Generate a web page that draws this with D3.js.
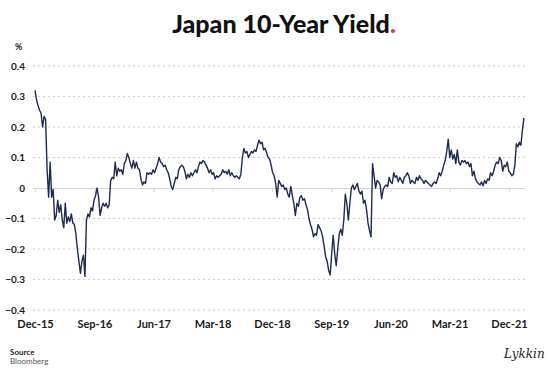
<!DOCTYPE html>
<html>
<head>
<meta charset="utf-8">
<script src="https://cdn.jsdelivr.net/npm/d3@7"></script>
<style>
  body { margin: 0; background: #fff; }
  .axis-label { font-family: Lato, "Noto Sans", sans-serif; font-weight: 700; fill: #1a1a1a; }
</style>
</head>
<body>
<div id="chart"></div>
<script>
// Weekly 10y JGB yield (%)
const weekStart = '2015-12-01';
const yields = [
  0.32, 0.29, 0.27, 0.255, 0.245, 0.20, 0.235, 0.225, 0.06, -0.03,
  0.085, -0.03, -0.005, -0.105, -0.09, -0.04, -0.08, -0.055, -0.105, -0.13,
  -0.05, -0.115, -0.095, -0.11, -0.085, -0.115, -0.12, -0.15, -0.2, -0.24,
  -0.28, -0.24, -0.22, -0.29, -0.105, -0.085, -0.095, -0.065, -0.075, -0.04,
  -0.025, 0.0, -0.03, -0.09, -0.065, -0.05, -0.06, -0.05, -0.065, -0.055,
  0.025, 0.035, 0.03, 0.085, 0.04, 0.065, 0.055, 0.06, 0.045, 0.08,
  0.09, 0.113, 0.1, 0.08, 0.065, 0.09, 0.065, 0.085, 0.065, 0.06,
  0.03, 0.01, 0.02, 0.015, 0.05, 0.045, 0.05, 0.045, 0.06, 0.05,
  0.065, 0.08, 0.1, 0.085, 0.08, 0.07, 0.075, 0.06, 0.05, 0.03,
  0.005, -0.005, 0.015, 0.035, 0.03, 0.06, 0.07, 0.075, 0.07, 0.055,
  0.03, 0.045, 0.035, 0.05, 0.04, 0.05, 0.06, 0.05, 0.07, 0.085,
  0.08, 0.09, 0.085, 0.075, 0.065, 0.05, 0.06, 0.045, 0.05, 0.03,
  0.04, 0.035, 0.04, 0.045, 0.06, 0.05, 0.055, 0.045, 0.06, 0.04,
  0.05, 0.04, 0.035, 0.04, 0.035, 0.03, 0.045, 0.1, 0.13, 0.115,
  0.12, 0.1, 0.11, 0.12, 0.115, 0.125, 0.12, 0.14, 0.157, 0.145,
  0.15, 0.125, 0.13, 0.115, 0.1, 0.095, 0.075, 0.05, 0.04, 0.015,
  -0.03, 0.025, 0.015, 0.005, 0.01, -0.005, 0.0, -0.02, -0.03, 0.005,
  -0.025, -0.05, -0.09, -0.05, -0.06, -0.03, -0.025, -0.04, -0.035, -0.055,
  -0.07, -0.1, -0.12, -0.135, -0.16, -0.15, -0.155, -0.12, -0.13, -0.14,
  -0.16, -0.19, -0.225, -0.24, -0.27, -0.285, -0.215, -0.155, -0.215, -0.255,
  -0.2, -0.15, -0.135, -0.155, -0.105, -0.02, -0.05, -0.105, -0.05, 0.0,
  0.01, -0.005, 0.005, 0.015, -0.01, -0.02, -0.01, -0.05, -0.04, -0.07,
  -0.115, -0.14, -0.16, 0.08, 0.04, 0.0, 0.025, 0.02, 0.01, -0.035,
  -0.005, 0.005, 0.01, 0.005, 0.035, 0.02, 0.015, 0.05, 0.035, 0.04,
  0.02, 0.035, 0.025, 0.015, 0.035, 0.04, 0.05, 0.04, 0.015, 0.025,
  0.02, 0.015, 0.035, 0.025, 0.04, 0.03, 0.025, 0.015, 0.025, 0.02,
  0.015, 0.01, 0.005, 0.015, 0.02, 0.015, 0.03, 0.05, 0.04, 0.055,
  0.075, 0.09, 0.12, 0.16, 0.1, 0.125, 0.095, 0.11, 0.08, 0.125,
  0.085, 0.075, 0.09, 0.085, 0.09, 0.08, 0.085, 0.07, 0.08, 0.04,
  0.055, 0.03, 0.02, 0.015, 0.01, 0.02, 0.007, 0.025, 0.015, 0.03,
  0.025, 0.05, 0.04, 0.055, 0.075, 0.085, 0.08, 0.1, 0.09, 0.055,
  0.075, 0.07, 0.085, 0.055, 0.05, 0.04, 0.045, 0.075, 0.145, 0.135,
  0.15, 0.14, 0.19, 0.23
];
const yTicks = [-0.4, -0.3, -0.2, -0.1, 0, 0.1, 0.2, 0.3, 0.4];
const xTickLabels = ['Dec-15', 'Sep-16', 'Jun-17', 'Mar-18', 'Dec-18', 'Sep-19', 'Jun-20', 'Mar-21', 'Dec-21'];

class YieldChart {

  constructor(_config, data) {
    this.config = {
      parentElement: _config.parentElement,
      containerWidth: 550,
      containerHeight: 370,
      margin: { top: 66, right: 41, bottom: 60, left: 35 }
    };
    this.data = data;
    this.initVis();
  }

  initVis() {
    let vis = this;

    vis.width = vis.config.containerWidth - vis.config.margin.left - vis.config.margin.right;
    vis.height = vis.config.containerHeight - vis.config.margin.top - vis.config.margin.bottom;

    vis.svg = d3.select(vis.config.parentElement)
      .append('svg')
      .attr('width', vis.config.containerWidth)
      .attr('height', vis.config.containerHeight);

    vis.chartArea = vis.svg.append('g')
      .attr('transform', `translate(${vis.config.margin.left},${vis.config.margin.top})`);

    // Dec-15 .. Dec-21 spans the ticked width, data runs a little past it
    vis.parseTick = d3.timeParse('%b-%y');
    vis.tickDates = xTickLabels.map(vis.parseTick);

    vis.xScale = d3.scaleTime()
      .domain([vis.tickDates[0], vis.tickDates[vis.tickDates.length - 1]])
      .range([0, 474]);

    vis.yScale = d3.scaleLinear()
      .domain([-0.4, 0.4])
      .range([vis.height, 0]);

    // Title with red full stop
    const title = vis.svg.append('text')
      .attr('x', 284)
      .attr('y', 33)
      .attr('text-anchor', 'middle')
      .style('font-family', 'Lato, "Noto Sans", sans-serif')
      .style('font-weight', 900)
      .style('font-size', '25px')
      .style('fill', '#111');
    title.append('tspan').text('Japan 10-Year Yield');
    title.append('tspan').style('fill', '#e8383d').text('.');

    vis.svg.append('text')
      .attr('class', 'axis-label')
      .attr('x', 15)
      .attr('y', 50)
      .style('font-size', '9px')
      .text('%');

    // Dotted gridlines
    vis.chartArea.append('g')
      .selectAll('line')
      .data(yTicks.filter(d => d !== 0))
      .join('line')
      .attr('x1', -2)
      .attr('x2', 490)
      .attr('y1', d => vis.yScale(d))
      .attr('y2', d => vis.yScale(d))
      .attr('stroke', '#cfcfcf')
      .attr('stroke-width', 1)
      .attr('stroke-dasharray', '2,3');

    // Y axis labels
    vis.yAxis = d3.axisLeft(vis.yScale)
      .tickValues(yTicks)
      .tickSize(0)
      .tickPadding(10)
      .tickFormat(d => d === 0 ? '0' : d3.format('.1f')(d));

    vis.yAxisGroup = vis.chartArea.append('g')
      .call(vis.yAxis);
    vis.yAxisGroup.select('.domain').remove();
    vis.yAxisGroup.selectAll('text')
      .attr('class', 'axis-label')
      .style('font-size', '10px');

    // Zero line with small ticks
    vis.zeroAxis = d3.axisBottom(vis.xScale)
      .tickValues(vis.tickDates)
      .tickSize(4)
      .tickSizeOuter(0)
      .tickFormat('');

    vis.zeroAxisGroup = vis.chartArea.append('g')
      .attr('transform', `translate(0,${vis.yScale(0)})`)
      .call(vis.zeroAxis);
    vis.zeroAxisGroup.select('.domain')
      .attr('d', `M-2,0.5H490`)
      .attr('stroke', '#d6d6d6');
    vis.zeroAxisGroup.selectAll('.tick line').attr('stroke', '#d6d6d6');

    // Date labels at the bottom
    vis.xAxis = d3.axisBottom(vis.xScale)
      .tickValues(vis.tickDates)
      .tickSize(0)
      .tickPadding(10)
      .tickFormat(d3.timeFormat('%b-%y'));

    vis.xAxisGroup = vis.chartArea.append('g')
      .attr('transform', `translate(0,${vis.height})`)
      .call(vis.xAxis);
    vis.xAxisGroup.select('.domain').remove();
    vis.xAxisGroup.selectAll('text')
      .attr('class', 'axis-label')
      .style('font-size', '11px');

    // Source and signature
    vis.svg.append('text')
      .attr('x', 10)
      .attr('y', 355)
      .style('font-family', 'Lato, sans-serif')
      .style('font-weight', 700)
      .style('font-size', '8px')
      .style('fill', '#222')
      .text('Source');

    vis.svg.append('text')
      .attr('x', 10)
      .attr('y', 364)
      .style('font-family', 'Lato, sans-serif')
      .style('font-size', '8px')
      .style('fill', '#555')
      .text('Bloomberg');

    vis.svg.append('text')
      .attr('x', 504)
      .attr('y', 358)
      .style('font-family', '"DejaVu Serif", serif')
      .style('font-style', 'italic')
      .style('font-size', '12px')
      .style('fill', '#222')
      .text('Lykkin');

    vis.line = d3.line()
      .x(d => vis.xScale(d.date))
      .y(d => vis.yScale(d.value));

    vis.updateVis();
  }

  updateVis() {
    let vis = this;
    const start = d3.timeParse('%Y-%m-%d')(weekStart);
    vis.series = vis.data.map((v, i) => ({ date: d3.timeDay.offset(start, i * 7), value: v }));
    vis.renderVis();
  }

  renderVis() {
    let vis = this;

    vis.chartArea.append('path')
      .datum(vis.series)
      .attr('fill', 'none')
      .attr('stroke', '#1e2a52')
      .attr('stroke-width', 1.4)
      .attr('stroke-linejoin', 'round')
      .attr('d', vis.line);
  }
}

new YieldChart({ parentElement: '#chart' }, yields);
</script>
</body>
</html>
